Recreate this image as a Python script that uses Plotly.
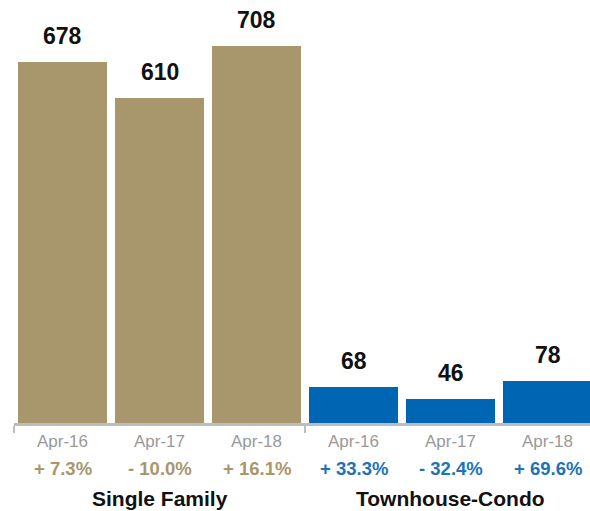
import plotly.graph_objects as go

periods = ["Apr-16", "Apr-17", "Apr-18", "Apr-16", "Apr-17", "Apr-18"]
groups = ["Single Family", "Townhouse-Condo"]
single_family = [678, 610, 708]
townhouse_condo = [68, 46, 78]
sf_change = ["+ 7.3%", "- 10.0%", "+ 16.1%"]
tc_change = ["+ 33.3%", "- 32.4%", "+ 69.6%"]

GOLD = "#A8976D"
BLUE = "#0066B3"
GOLD_TXT = "#A8976D"
BLUE_TXT = "#1E72BA"
FONT = "Liberation Sans, Arial, sans-serif"

values = single_family + townhouse_condo
changes = sf_change + tc_change
xs = list(range(len(values)))
colors = [GOLD] * 3 + [BLUE] * 3
txt_colors = [GOLD_TXT] * 3 + [BLUE_TXT] * 3

fig = go.Figure()
fig.add_trace(go.Bar(x=xs, y=values, marker=dict(color=colors, line=dict(width=0)),
                     width=0.915, hoverinfo="skip"))

ann = []
for x, v, per, ch, tc in zip(xs, values, periods, changes, txt_colors):
    ann.append(dict(x=x, y=v, xref="x", yref="y", text=f"<b>{v}</b>", showarrow=False,
                    yanchor="bottom", yshift=11, font=dict(family=FONT, size=23, color="#111111")))
    ann.append(dict(x=x, y=0, xref="x", yref="y", text=per, showarrow=False,
                    yanchor="middle", yshift=-18, font=dict(family=FONT, size=17, color="#999999")))
    ann.append(dict(x=x, y=0, xref="x", yref="y", text=f"<b>{ch}</b>", showarrow=False,
                    yanchor="middle", yshift=-45, font=dict(family=FONT, size=18.5, color=tc)))
for gi, g in enumerate(groups):
    ann.append(dict(x=1 + 3 * gi, y=0, xref="x", yref="y", text=f"<b>{g}</b>", showarrow=False,
                    yanchor="middle", yshift=-75, font=dict(family=FONT, size=21, color="#111111")))

fig.update_layout(
    width=590, height=511,
    margin=dict(l=14, r=0, t=10, b=88),
    plot_bgcolor="white", paper_bgcolor="white",
    showlegend=False,
    annotations=ann,
    bargap=0,
)
fig.update_xaxes(range=[-0.5, -0.5 + 576 / 97], showgrid=False, zeroline=False,
                 showline=True, linecolor="#BDBDBD", linewidth=3,
                 tickmode="array", tickvals=[-0.5, 2.5], ticktext=["", ""],
                 ticks="outside", ticklen=7, tickwidth=2, tickcolor="#BDBDBD")
fig.update_yaxes(range=[0, (423 - 10) / 0.5325], showgrid=False, zeroline=False,
                 showticklabels=False, showline=False)

fig.write_html("out.html")
